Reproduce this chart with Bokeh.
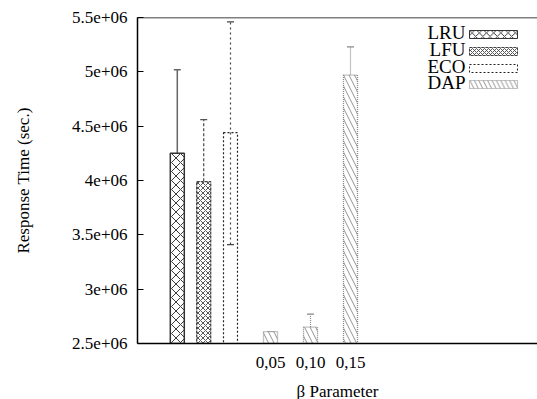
from bokeh.plotting import figure
from bokeh.models import (ColumnDataSource, FixedTicker, Range1d, Whisker, TeeHead,
                          Span, Label, BoxAnnotation)
from bokeh.embed import file_html
from bokeh.resources import INLINE

# ---- data ----
series = ["LRU", "LFU", "ECO", "DAP"]
beta_labels = ["0,05", "0,10", "0,15"]
lru_val, lru_lo, lru_hi = 4.25e6, 3.49e6, 5.02e6
lfu_val, lfu_lo, lfu_hi = 3.99e6, 3.44e6, 4.56e6
eco_val, eco_lo, eco_hi = 4.44e6, 3.41e6, 5.46e6
dap_val = [2.61e6, 2.65e6, 4.97e6]
dap_lo = [2.58e6, 2.56e6, 4.70e6]
dap_hi = [2.61e6, 2.77e6, 5.23e6]
y_ticks = [2.5e6, 3.0e6, 3.5e6, 4.0e6, 4.5e6, 5.0e6, 5.5e6]

FONT = "Liberation Serif"
FS = "17px"

# ---- layout ----
Y0, Y1 = 2.5e6, 5.5e6
X0, X1 = -2.325, 7.675
W = 0.35
base_x = [-1.33, -0.67, 0.0]
dap_x = [1, 2, 3]

p = figure(output_backend="svg", toolbar_location=None,
           x_range=Range1d(X0, X1), y_range=Range1d(Y0, Y1),
           frame_width=400, frame_height=326,
           min_border_left=137, min_border_right=0, min_border_top=17, min_border_bottom=50)
p.outline_line_color = None
p.grid.visible = False
p.background_fill_color = "white"

styles = {
    "LRU": dict(fill_color="white", hatch_pattern="diagonal_cross", hatch_scale=9, hatch_color="#222222",
                hatch_weight=0.9, line_color="#333333", line_width=1.5, line_dash="solid"),
    "LFU": dict(fill_color="white", hatch_pattern="diagonal_cross", hatch_scale=5, hatch_color="#444444",
                hatch_weight=0.9, line_color="#444444", line_width=1.3, line_dash="3 1"),
    "ECO": dict(fill_color=None, hatch_pattern=None, line_color="#222222", line_width=1.2, line_dash="2 2"),
    "DAP": dict(fill_color="white", hatch_pattern="left_diagonal_line", hatch_scale=11, hatch_color="#777777",
                hatch_weight=0.8, line_color="#888888", line_width=1.3, line_dash="1 1"),
}
err_styles = {
    "LRU": dict(line_color="#666666", line_width=1.5, line_dash="solid"),
    "LFU": dict(line_color="#555555", line_width=1.3, line_dash="3 2"),
    "ECO": dict(line_color="#444444", line_width=1.2, line_dash="2 3"),
    "DAP": dict(line_color="#888888", line_width=1.2, line_dash="1 1"),
}

groups = {
    "LRU": ([base_x[0]], [lru_val], [lru_lo], [lru_hi]),
    "LFU": ([base_x[1]], [lfu_val], [lfu_lo], [lfu_hi]),
    "ECO": ([base_x[2]], [eco_val], [eco_lo], [eco_hi]),
    "DAP": (dap_x, dap_val, dap_lo, dap_hi),
}

for name in series:
    xs, vals, los, his = groups[name]
    src = ColumnDataSource(dict(x=xs, top=vals, lo=los, hi=his))
    p.vbar(x="x", top="top", bottom=Y0, width=W, source=src, **styles[name])
    es = err_styles[name]
    wk = Whisker(base="x", lower="lo", upper="hi", source=src,
                 line_color=es["line_color"], line_width=es["line_width"], line_dash=es["line_dash"],
                 upper_head=TeeHead(size=7, line_color=es["line_color"], line_width=es["line_width"]),
                 lower_head=TeeHead(size=7, line_color=es["line_color"], line_width=es["line_width"]))
    p.add_layout(wk)

# top border line
p.add_layout(Span(location=Y1, dimension="width", line_color="black", line_width=1.5))

# axes
p.yaxis.ticker = FixedTicker(ticks=y_ticks)
p.yaxis.major_label_overrides = {v: "%g" % v for v in y_ticks}
p.xaxis.ticker = FixedTicker(ticks=dap_x)
p.xaxis.major_label_overrides = {x: l for x, l in zip(dap_x, beta_labels)}
for ax in (p.xaxis, p.yaxis):
    ax.axis_line_color = "black"
    ax.axis_line_width = 1.5
    ax.major_label_text_font = FONT
    ax.major_label_text_font_size = FS
    ax.major_label_text_color = "black"
    ax.axis_label_text_font = FONT
    ax.axis_label_text_font_size = FS
    ax.axis_label_text_font_style = "normal"
    ax.axis_label_text_color = "black"
    ax.minor_tick_line_color = None
p.xaxis.major_tick_line_color = None
p.xaxis.major_tick_in = 0
p.xaxis.major_tick_out = 0
p.xaxis.major_label_standoff = 13
p.xaxis.axis_label = "β Parameter"
p.xaxis.axis_label_standoff = 11
p.yaxis.major_tick_in = 6
p.yaxis.major_tick_out = 0
p.yaxis.major_tick_line_color = "black"
p.yaxis.major_label_standoff = 10
p.yaxis.axis_label = "Response Time (sec.)"
p.yaxis.axis_label_standoff = 36

# legend (text left of swatch)
def px2x(px):
    return X0 + (px - 137) / 400 * (X1 - X0)

def py2y(py):
    return Y1 - (py - 17) / 326 * (Y1 - Y0)

rows = [34, 51, 68, 84]
for name, ry in zip(series, rows):
    p.add_layout(Label(x=px2x(465), y=py2y(ry - 2), text=name, text_align="right", text_baseline="middle",
                       text_font=FONT, text_font_size="19px", text_color="black"))
    st = styles[name]
    kw = dict(left=px2x(469), right=px2x(517), bottom=py2y(ry + 4), top=py2y(ry - 4),
              fill_color=st["fill_color"] if st["fill_color"] else None, fill_alpha=1.0,
              line_color=st["line_color"], line_width=1.0, line_dash=st["line_dash"], line_alpha=1.0)
    if st.get("hatch_pattern"):
        kw.update(hatch_pattern=st["hatch_pattern"], hatch_scale=st["hatch_scale"] * 0.8,
                  hatch_color=st["hatch_color"], hatch_weight=st["hatch_weight"])
    p.add_layout(BoxAnnotation(**kw))

open("out.html", "w").write(file_html(p, INLINE))
